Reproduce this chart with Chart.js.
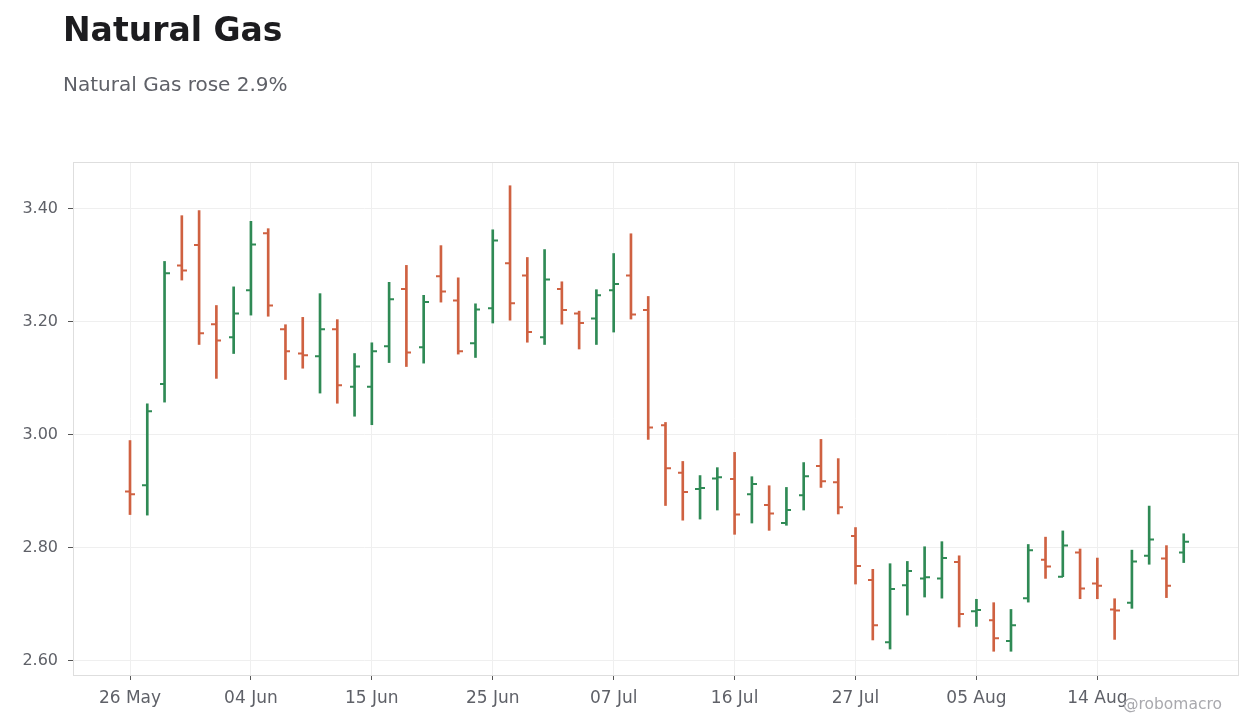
<!DOCTYPE html>
<html>
<head>
<meta charset="utf-8">
<script src="https://cdn.jsdelivr.net/npm/chart.js@4.4.1/dist/chart.umd.min.js"></script>
<style>
  html, body { margin: 0; padding: 0; background: #ffffff; }
  #wrap { position: relative; width: 1260px; height: 728px; overflow: hidden; font-family: "DejaVu Sans", sans-serif; }
  #title { position: absolute; left: 63px; top: 11px; font-size: 33px; font-weight: bold; color: #1c1c1f; white-space: nowrap; line-height: 1.15; }
  #subtitle { position: absolute; left: 63px; top: 73px; font-size: 20px; color: #5f6168; white-space: nowrap; line-height: 1.15; }
  #mark { position: absolute; left: 1123px; top: 695px; font-size: 15.5px; color: #a9a9ae; white-space: nowrap; }
  #cv { position: absolute; left: 0; top: 0; }
</style>
</head>
<body>
<div id="wrap">
  <canvas id="cv" width="1260" height="728"></canvas>
  <div id="title">Natural Gas</div>
  <div id="subtitle">Natural Gas rose 2.9%</div>
  <div id="mark">@robomacro</div>
</div>
<script>
const dates = ["26 May","27 May","28 May","29 May","01 Jun","02 Jun","03 Jun","04 Jun","05 Jun","08 Jun",
  "09 Jun","10 Jun","11 Jun","12 Jun","15 Jun","16 Jun","17 Jun","18 Jun","19 Jun","22 Jun",
  "23 Jun","25 Jun","26 Jun","29 Jun","30 Jun","01 Jul","02 Jul","06 Jul","07 Jul","08 Jul",
  "09 Jul","10 Jul","13 Jul","14 Jul","15 Jul","16 Jul","17 Jul","20 Jul","21 Jul","22 Jul",
  "23 Jul","24 Jul","27 Jul","28 Jul","29 Jul","30 Jul","31 Jul","03 Aug","04 Aug","05 Aug",
  "06 Aug","07 Aug","10 Aug","11 Aug","12 Aug","13 Aug","14 Aug","17 Aug","18 Aug","19 Aug",
  "20 Aug","21 Aug"];

const openP = [2.900,2.911,3.090,3.300,3.336,3.196,3.173,3.256,3.357,3.187,3.144,3.139,3.187,3.085,3.085,3.157,3.258,3.155,3.281,3.238,
  3.162,3.224,3.304,3.282,3.173,3.258,3.215,3.206,3.256,3.282,3.221,3.017,2.933,2.904,2.923,2.922,2.895,2.876,2.844,2.893,
  2.945,2.916,2.821,2.743,2.633,2.734,2.746,2.746,2.775,2.688,2.672,2.635,2.711,2.779,2.749,2.792,2.737,2.691,2.703,2.786,
  2.781,2.792];
const highP = [2.990,3.055,3.307,3.388,3.397,3.229,3.262,3.378,3.365,3.195,3.208,3.250,3.204,3.144,3.163,3.270,3.300,3.247,3.335,3.278,
  3.232,3.363,3.441,3.314,3.328,3.271,3.219,3.257,3.321,3.356,3.245,3.022,2.953,2.928,2.942,2.969,2.926,2.910,2.907,2.951,
  2.992,2.958,2.836,2.762,2.772,2.776,2.802,2.811,2.786,2.709,2.703,2.691,2.806,2.819,2.830,2.798,2.782,2.710,2.796,2.874,
  2.804,2.825];
const lowP = [2.859,2.858,3.058,3.274,3.160,3.100,3.144,3.212,3.210,3.098,3.118,3.074,3.056,3.033,3.018,3.128,3.121,3.127,3.235,3.143,
  3.137,3.198,3.203,3.164,3.160,3.196,3.152,3.160,3.182,3.205,2.992,2.875,2.849,2.851,2.867,2.824,2.844,2.831,2.840,2.867,
  2.907,2.860,2.736,2.637,2.621,2.681,2.713,2.711,2.660,2.661,2.617,2.617,2.704,2.746,2.749,2.710,2.710,2.638,2.693,2.771,
  2.712,2.774];
const closeP = [2.895,3.042,3.286,3.291,3.180,3.167,3.215,3.337,3.229,3.148,3.141,3.187,3.088,3.121,3.148,3.240,3.146,3.235,3.254,3.148,
  3.222,3.344,3.233,3.182,3.275,3.221,3.198,3.247,3.267,3.213,3.013,2.941,2.899,2.906,2.925,2.859,2.913,2.861,2.867,2.927,
  2.918,2.872,2.768,2.663,2.727,2.759,2.748,2.782,2.683,2.690,2.640,2.663,2.796,2.767,2.804,2.728,2.733,2.689,2.776,2.815,
  2.733,2.811];
const tickEvery = 7;
const yTicks = [2.60, 2.80, 3.00, 3.20, 3.40];

const UP = '#2f8a55';
const DOWN = '#cf6141';
const isUp = closeP.map((c, i) => c >= openP[i]);

const rangeData = dates.map((d, i) => ({ x: i, y: [lowP[i], highP[i]] }));

const ohlcTicks = {
  id: 'ohlcTicks',
  afterDatasetsDraw(chart) {
    const xs = chart.scales.x, ys = chart.scales.y, ctx = chart.ctx;
    ctx.save();
    ctx.lineWidth = 2;
    for (let i = 0; i < dates.length; i++) {
      const x = Math.round(xs.getPixelForValue(i));
      ctx.strokeStyle = isUp[i] ? UP : DOWN;
      const yo = ys.getPixelForValue(openP[i]);
      const yc = ys.getPixelForValue(closeP[i]);
      ctx.beginPath();
      ctx.moveTo(x - 5, yo); ctx.lineTo(x, yo);
      ctx.moveTo(x, yc); ctx.lineTo(x + 5, yc);
      ctx.stroke();
    }
    ctx.restore();
  }
};
const frame = {
  id: 'frame',
  beforeDatasetsDraw(chart) {
    const a = chart.chartArea, ctx = chart.ctx;
    ctx.save();
    ctx.strokeStyle = '#dedede';
    ctx.lineWidth = 1;
    ctx.strokeRect(a.left + 0.5, a.top + 0.5, a.right - a.left - 1, a.bottom - a.top);
    ctx.restore();
  }
};

new Chart(document.getElementById('cv'), {
  type: 'bar',
  data: {
    datasets: [{
      data: rangeData,
      backgroundColor: isUp.map(u => u ? UP : DOWN),
      borderWidth: 0,
      barThickness: 2,
      grouped: false
    }]
  },
  options: {
    responsive: false,
    animation: false,
    layout: { padding: { top: 162, right: 21, left: 0, bottom: 0 } },
    plugins: { legend: { display: false }, tooltip: { enabled: false }, title: { display: false } },
    scales: {
      x: {
        type: 'linear',
        offset: false,
        min: -3.3, max: 64.2,
        afterBuildTicks(scale) {
          scale.ticks = dates.map((d, i) => i).filter(i => i % tickEvery === 0).map(v => ({ value: v }));
        },
        afterFit(scale) { scale.height = 53; },
        ticks: {
          callback: (v) => dates[v] || '',
          color: '#5f6168',
          font: { family: 'DejaVu Sans', size: 17 },
          padding: 8,
          maxRotation: 0,
          autoSkip: false
        },
        grid: { offset: false, color: '#efefef', tickColor: '#555', tickLength: 5, drawTicks: true },
        border: { display: false }
      },
      y: {
        type: 'linear',
        min: 2.575, max: 3.483,
        afterBuildTicks(scale) { scale.ticks = yTicks.map(v => ({ value: v })); },
        afterFit(scale) { scale.width = 73; },
        ticks: {
          callback: (v) => v.toFixed(2),
          color: '#5f6168',
          font: { family: 'DejaVu Sans', size: 16 },
          padding: 10
        },
        grid: { color: '#efefef', tickColor: '#555', tickLength: 5 },
        border: { display: false }
      }
    }
  },
  plugins: [frame, ohlcTicks]
});
</script>
</body>
</html>
